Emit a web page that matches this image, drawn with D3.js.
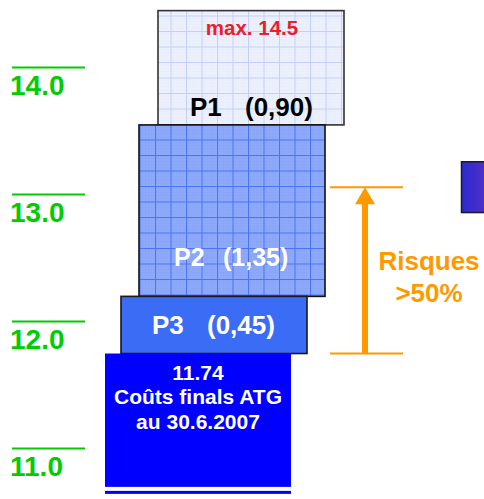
<!DOCTYPE html>
<html>
<head>
<meta charset="utf-8">
<script src="https://cdn.jsdelivr.net/npm/d3@7"></script>
<style>
  html, body { margin: 0; padding: 0; background: #ffffff; }
  svg { display: block; font-family: "Liberation Sans", Arial, sans-serif; font-weight: bold; }
</style>
</head>
<body>
<svg id="chart" width="484" height="499"></svg>
<script>
// ---- data ----
const tickValues = [11, 12, 13, 14];
const baseValue = 10.69;
const actualValue = 11.74;
const actualLines = ["11.74", "Coûts finals ATG", "au 30.6.2007"];
const segNames = ["P3", "P2", "P1"];
const segValues = [0.45, 1.35, 0.90];
const segLabels = ["(0,45)", "(1,35)", "(0,90)"];
const maxLabel = "max. 14.5";
const riskRange = [11.74, 13.05];
const riskLabel = ["Risques", ">50%"];
const nextBarRange = [12.85, 13.25];

// ---- drawing ----
const svg = d3.select("#chart");
const y = d3.scaleLinear().domain([11, 14]).range([447.5, 66.5]);

const defs = svg.append("defs");
function gridPattern(id, bg, line, minor) {
  const p = defs.append("pattern").attr("id", id).attr("patternUnits", "userSpaceOnUse")
    .attr("width", 15.5).attr("height", 15.5);
  p.append("rect").attr("width", 15.5).attr("height", 15.5).attr("fill", bg);
  for (let k = 1; k < 5; k++) {
    p.append("line").attr("x1", k * 3.1).attr("x2", k * 3.1).attr("y1", 0).attr("y2", 15.5)
      .attr("stroke", minor).attr("stroke-width", 0.5);
    p.append("line").attr("y1", k * 3.1).attr("y2", k * 3.1).attr("x1", 0).attr("x2", 15.5)
      .attr("stroke", minor).attr("stroke-width", 0.5);
  }
  p.append("line").attr("x1", 0.5).attr("x2", 0.5).attr("y1", 0).attr("y2", 15.5).attr("stroke", line).attr("stroke-width", 1);
  p.append("line").attr("y1", 0.5).attr("y2", 0.5).attr("x1", 0).attr("x2", 15.5).attr("stroke", line).attr("stroke-width", 1);
}
gridPattern("gridP1", "#eef1fd", "#c3d0f6", "#e4eafb");
gridPattern("gridP2", "#8eaafa", "#4a72f2", "#84a2f8");
const grad = defs.append("linearGradient").attr("id", "purple").attr("x1", "0").attr("x2", "1").attr("y1", "0").attr("y2", "0");
grad.append("stop").attr("offset", "0").attr("stop-color", "#2a2ad2");
grad.append("stop").attr("offset", "1").attr("stop-color", "#6a32c0");

// axis ticks (green)
const tickG = svg.append("g").selectAll("g").data(tickValues).join("g")
  .attr("transform", d => `translate(0,${y(d)})`);
tickG.append("line").attr("x1", 12).attr("x2", 85).attr("y1", 1).attr("y2", 1)
  .attr("stroke", "#00cc00").attr("stroke-width", 2);
tickG.append("text").attr("x", 10).attr("y", 28).attr("fill", "#00cc00")
  .attr("font-size", 28).text(d3.format(".1f"));

// segment positions (layout)
const xLeft = [121, 139, 158];
const boxW = 186;

let cum = actualValue;
const segs = segValues.map((v, i) => {
  const s = { name: segNames[i], label: segLabels[i], lo: cum, hi: cum + v, i };
  cum += v;
  return s;
});

const fills = ["#3b6cf6", "url(#gridP2)", "url(#gridP1)"];
const strokes = ["#1a1a1a", "#111", "#333"];
const textFill = ["#ffffff", "#ffffff", "#000000"];
const textSize = [26, 25, 26];
const nameOff = [-62, -58, -61];
const labelOff = [-7, -9, -6];

const order = [2, 1, 0];
order.forEach(i => {
  const s = segs[i];
  const x0 = xLeft[i];
  const top = y(s.hi), bot = y(s.lo);
  const g = svg.append("g");
  g.append("rect").attr("x", x0).attr("y", top).attr("width", boxW).attr("height", bot - top)
    .attr("fill", fills[i]).attr("stroke", strokes[i]).attr("stroke-width", 1.6);
  const cx = x0 + boxW / 2;
  let by;
  if (i === 0) by = (top + bot) / 2 + 9;
  else if (i === 1) by = bot - 30;
  else by = bot - 9;
  g.append("text").attr("x", cx + nameOff[i]).attr("y", by).attr("fill", textFill[i])
    .attr("font-size", textSize[i]).text(s.name);
  g.append("text").attr("x", cx + labelOff[i]).attr("y", by).attr("fill", textFill[i])
    .attr("font-size", textSize[i]).text(s.label);
  if (i === 2) {
    g.append("text").attr("x", cx + 1).attr("y", top + 24).attr("text-anchor", "middle")
      .attr("fill", "#e8202a").attr("font-size", 20.5).text(maxLabel);
  }
});

// actual cost box
const ax0 = 105, aw = 186;
svg.append("rect").attr("x", ax0).attr("y", y(actualValue)).attr("width", aw)
  .attr("height", y(baseValue) - y(actualValue)).attr("fill", "#0000ff");
svg.append("rect").attr("x", ax0).attr("y", y(baseValue) + 4).attr("width", aw)
  .attr("height", 3).attr("fill", "#0000ff");
svg.append("g").selectAll("text").data(actualLines).join("text")
  .attr("x", ax0 + aw / 2).attr("y", (d, k) => y(actualValue) + 26 + k * 24.5)
  .attr("text-anchor", "middle").attr("fill", "#ffffff").attr("font-size", 21).text(d => d);

// risk arrow
const orange = "#ff9900";
const ax = 365;
const rg = svg.append("g");
riskRange.forEach(v => {
  rg.append("line").attr("x1", 330).attr("x2", 403).attr("y1", y(v)).attr("y2", y(v))
    .attr("stroke", orange).attr("stroke-width", 2);
});
rg.append("line").attr("x1", ax).attr("x2", ax).attr("y1", y(riskRange[0])).attr("y2", y(riskRange[1]) + 15)
  .attr("stroke", orange).attr("stroke-width", 6);
const tipY = y(riskRange[1]);
rg.append("path").attr("d", `M${ax},${tipY} L${ax - 10},${tipY + 17} L${ax + 10},${tipY + 17} Z`).attr("fill", orange);
rg.selectAll("text").data(riskLabel).join("text")
  .attr("x", 429).attr("y", (d, k) => 270 + k * 32).attr("text-anchor", "middle")
  .attr("fill", orange).attr("font-size", 26).text(d => d);

// next (partially visible) bar
svg.append("rect").attr("x", 461.5).attr("y", y(nextBarRange[1])).attr("width", 40)
  .attr("height", y(nextBarRange[0]) - y(nextBarRange[1]))
  .attr("fill", "url(#purple)").attr("stroke", "#1a1a2a").attr("stroke-width", 1.5);
</script>
</body>
</html>
